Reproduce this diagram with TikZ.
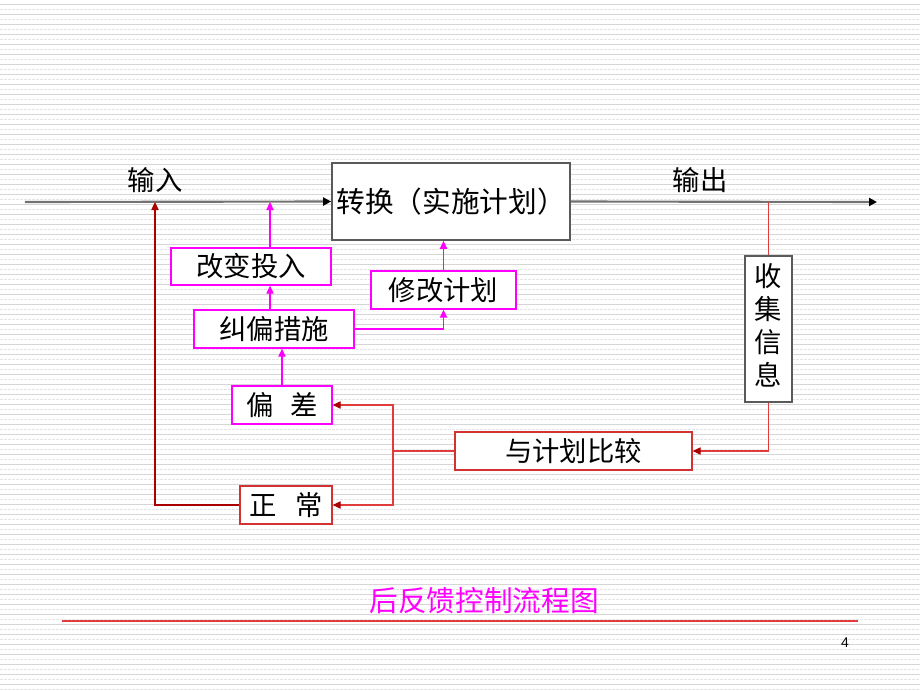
\documentclass[tikz,border=0pt]{standalone}
\usepackage{fontspec}
\newfontfamily\cjk{Noto Sans CJK SC}
\setsansfont{Liberation Sans}
\usetikzlibrary{arrows.meta}
\definecolor{mag}{RGB}{255,0,255}
\definecolor{boxred}{RGB}{210,50,50}
\definecolor{linered}{RGB}{225,60,60}
\definecolor{darkred}{RGB}{170,0,0}
\definecolor{framegray}{RGB}{90,90,90}
\definecolor{maingray}{RGB}{115,115,115}
\begin{document}
\begin{tikzpicture}[x=0.75pt,y=-0.75pt,
  every node/.style={font=\cjk\fontsize{20.5}{22}\selectfont, inner sep=0pt},
  bx/.style={draw, fill=white, line width=1pt, align=center},
  magbox/.style={bx, draw=mag},
  redbox/.style={bx, draw=boxred},
  graybox/.style={bx, draw=framegray, line width=1.3pt},
  tip/.style={-{Triangle[length=6pt,width=5.5pt]}},
  mainln/.style={draw=maingray, line width=1.6pt},
  magln/.style={draw=mag, line width=0.8pt, tip},
  redln/.style={draw=linered, line width=0.8pt},
  redar/.style={redln, -{Triangle[length=6pt,width=5.5pt,color=darkred,fill=darkred]}},
  blacktip/.style={-{Triangle[length=6pt,width=6pt,color=black,fill=black]}},
]
\useasboundingbox (0,0) rectangle (920,690);
\fill[white] (0,0) rectangle (920,690);
\foreach \y in {4,14,...,690} {\draw[gray!32, line width=0.6pt] (0,\y) -- (920,\y);}
\foreach \y in {9,19,...,690} {\draw[gray!20, line width=0.5pt, dash pattern=on 2pt off 1pt] (0,\y) -- (920,\y);}

% nodes
\node[graybox, minimum width=178.5pt, minimum height=57.75pt, font=\cjk\fontsize{21.5}{23}\selectfont] (conv) at (451,201.5) {转换（实施计划）};
\node[magbox, minimum width=120pt, minimum height=27.75pt] (gbtr) at (251,266.5) {改变投入};
\node[magbox, minimum width=108.75pt, minimum height=28.5pt] (xg) at (443.5,290) {修改计划};
\node[magbox, minimum width=120pt, minimum height=28.5pt] (jp) at (274,329) {纠偏措施};
\node[magbox, minimum width=75pt, minimum height=28.5pt] (pc) at (282,405) {偏\hspace{0.6em}差};
\node[redbox, minimum width=69pt, minimum height=28.5pt] (zc) at (286,505) {正\hspace{0.7em}常};
\node[redbox, minimum width=177.75pt, minimum height=28.5pt] (bj) at (573.5,451) {与计划比较};
\node[graybox, minimum width=35.25pt, minimum height=109.5pt] (sj) at (768.5,329)
  {\begin{tabular}{@{}c@{}}收\\[1pt]集\\[1pt]信\\[1pt]息\end{tabular}};

\node (lin) at (155,180) {输入};
\node (lout) at (700,180) {输出};
\node[text=mag, font=\cjk\fontsize{21.5}{23}\selectfont] (title) at (484,601) {后反馈控制流程图};
\node[font=\sffamily\fontsize{10.5}{12}\selectfont] (pg) at (845,643) {4};

\coordinate (inL) at (25,202);
\coordinate (outR) at (877,202);
\coordinate (inA) at (155,202);
\coordinate (tapO) at (768.5,202);
\coordinate (a1) at (270,202);
\coordinate (split) at (393,451);
\coordinate (tl) at (62,621);
\coordinate (tr) at (858,621);

% main flow
\draw[mainln, blacktip] (inL) -- (conv.west);
\draw[mainln, blacktip] (conv.east) -- (outR);

% magenta arrows
\draw[magln] (gbtr.north -| a1) -- (a1);
\draw[magln] (jp.north -| a1) -- (gbtr.south -| a1);
\draw[magln] (pc.north) -- (jp.south -| pc.north);
\draw[magln] (xg.north) -- (conv.south -| xg.north);
\draw[magln] (jp.east) -| (xg.south);

% red feedback
\draw[redln] (tapO) -- (sj.north);
\draw[redar] (sj.south) |- (bj.east);
\draw[redln] (bj.west) -- (split);
\draw[redar] (split) |- (pc.east);
\draw[redar] (split) |- (zc.east);
\draw[draw=darkred, line width=0.9pt, -{Triangle[length=6pt,width=5.5pt,color=darkred,fill=darkred]}] (zc.west) -| (inA);

% title rule
\draw[draw=linered, line width=1.6pt] (tl) -- (tr);
\end{tikzpicture}
\end{document}
